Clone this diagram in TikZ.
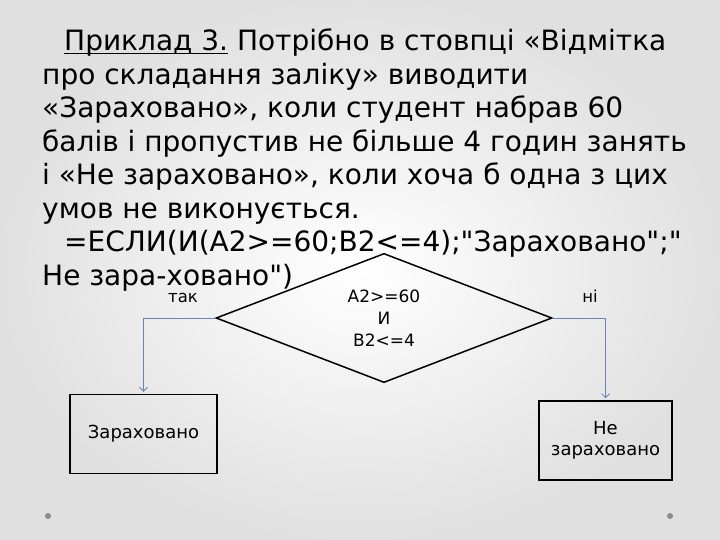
\documentclass[tikz,border=0pt]{standalone}
\usepackage{fontspec}
\setmainfont{DejaVu Sans}[Ligatures=TeXOff]
\usetikzlibrary{shapes.geometric,arrows.meta}
\definecolor{linkblue}{RGB}{110,128,185}
\definecolor{dotgray}{RGB}{140,140,140}
\newcommand\ulword[1]{\setbox0\hbox{#1}\rlap{\rule[-3.2pt]{\wd0}{1.4pt}}\box0\relax}

\begin{document}
\begin{tikzpicture}[x=1pt,y=-1pt,
  decision/.style={diamond,draw,line width=1.5pt,minimum width=336pt,minimum height=118pt,
    inner sep=0pt,align=center,font=\fontsize{17}{22}\selectfont},
  outcome/.style={rectangle,draw,line width=1.5pt,inner sep=0pt,align=center,
    font=\fontsize{18}{21}\selectfont},
  branch/.style={draw=linkblue,line width=0.8pt,-{Straight Barb[length=4pt,width=8pt]},shorten >=2pt},
  lbl/.style={inner sep=1pt,font=\fontsize{16.5}{20}\selectfont}]
  \shade[inner color=white,outer color=black!12] (0,0) rectangle (720,540);
  \useasboundingbox (0,0) rectangle (720,540);
  \node[anchor=north west,align=left,inner sep=0pt,font=\fontsize{28}{33.5}\selectfont] (task) at (42,29)
    {\hspace*{22pt}\ulword{Приклад 3.} Потрібно в стовпці «Відмітка\\
     про складання заліку» виводити\\
     «Зараховано», коли студент набрав 60\\
     балів і пропустив не більше 4 годин занять\\
     і «Не зараховано», коли хоча б одна з цих\\
     умов не виконується.\\
     \hspace*{22pt}=ЕСЛИ(И(A2>=60;B2<=4);"Зараховано";"\\
     Не зара-ховано")};
  \node[decision] (cond) at (384,318) {A2>=60\\И\\B2<=4};
  \node[outcome,minimum width=147pt,minimum height=79pt] (pass) at (143.5,434) {Зараховано};
  \node[outcome,minimum width=133pt,minimum height=79pt] (fail) at (605.5,440.5) {Не\\зараховано};
  \node[lbl,anchor=base] (yes) at (183,302) {так};
  \node[lbl,anchor=base] (no) at (590,302) {ні};
  \draw[branch] (cond.west) -| (pass.north);
  \draw[branch] (cond.east) -| (fail.north);
  \fill[dotgray] (48,516) circle (3);
  \fill[dotgray] (670,516) circle (3);
\end{tikzpicture}
\end{document}
